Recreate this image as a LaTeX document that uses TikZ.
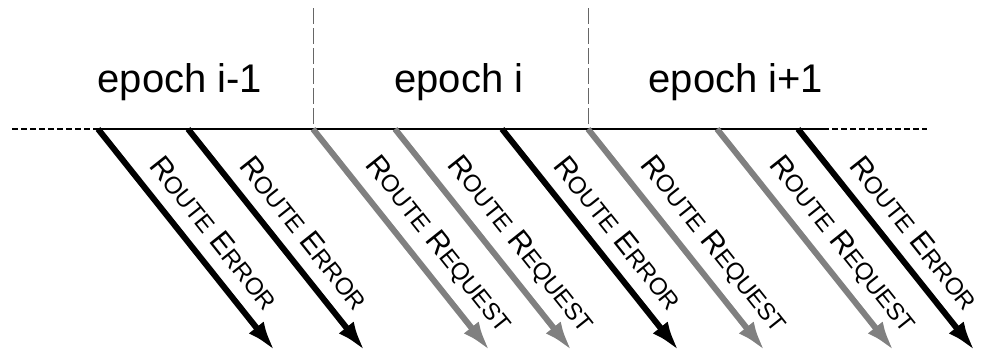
\documentclass[tikz,border=0pt]{standalone}
\usepackage{fontspec}
\setmainfont{Liberation Sans}
\usetikzlibrary{arrows.meta}
\newcommand{\BgL}[1]{{\fontsize{30}{30}\selectfont #1}}
\newcommand{\SmL}[1]{{\fontsize{24}{24}\selectfont #1}}
\newcommand{\RErr}{\BgL{R}\SmL{OUTE}\hspace{8pt}\BgL{E}\SmL{RROR}}
\newcommand{\RReq}{\BgL{R}\SmL{OUTE}\hspace{8pt}\BgL{R}\SmL{EQUEST}}
\tikzset{
  blk/.style={draw=black, line width=6pt, -{Latex[length=30pt,width=19pt]}},
  gry/.style={draw=black!50, line width=6pt, -{Latex[length=30pt,width=19pt]}},
  lbl/.style={rotate=-51.4, anchor=west, inner sep=0pt, outer sep=0pt},
  epochlbl/.style={anchor=base, inner sep=0pt, font=\fontsize{40}{40}\selectfont},
  sep/.style={draw=black!60, line width=0.8pt, dash pattern=on 16pt off 4pt},
}
\begin{document}
\begin{tikzpicture}[x=1pt,y=-1pt]
\useasboundingbox (0,0) rectangle (982,356);
% timeline
\coordinate (L0) at (12,129);
\coordinate (L1) at (97,129);
\coordinate (R1) at (823,129);
\coordinate (R0) at (927,129);
\draw[line width=1.4pt] (L1) -- (R1);
\draw[line width=1.2pt, dash pattern=on 6pt off 3pt] (L0) -- (L1);
\draw[line width=1.2pt, dash pattern=on 6pt off 3pt] (R1) -- (R0);
% separators
\coordinate (S1t) at (313,8); \coordinate (S1b) at (313,127);
\coordinate (S2t) at (588,8); \coordinate (S2b) at (588,127);
\draw[sep] (S1t) -- (S1b);
\draw[sep] (S2t) -- (S2b);
% epoch labels
\node[epochlbl] (e1) at (180,92) {epoch i-1};
\node[epochlbl] (e2) at (459,92) {epoch i};
\node[epochlbl] (e3) at (736,92) {epoch i+1};
% arrows
\foreach \n/\x/\s/\t in {1/98/blk/\RErr, 2/188/blk/\RErr, 3/313/gry/\RReq, 4/395/gry/\RReq, 5/502/blk/\RErr, 6/588/gry/\RReq, 7/717/gry/\RReq, 8/798/blk/\RErr}{
  \coordinate (a\n) at (\x,129);
  \coordinate (b\n) at ({\x+177},351);
  \draw[\s] (a\n) -- (b\n);
  \node[lbl] (t\n) at ({\x+58},160) {\t};
}
\end{tikzpicture}
\end{document}
